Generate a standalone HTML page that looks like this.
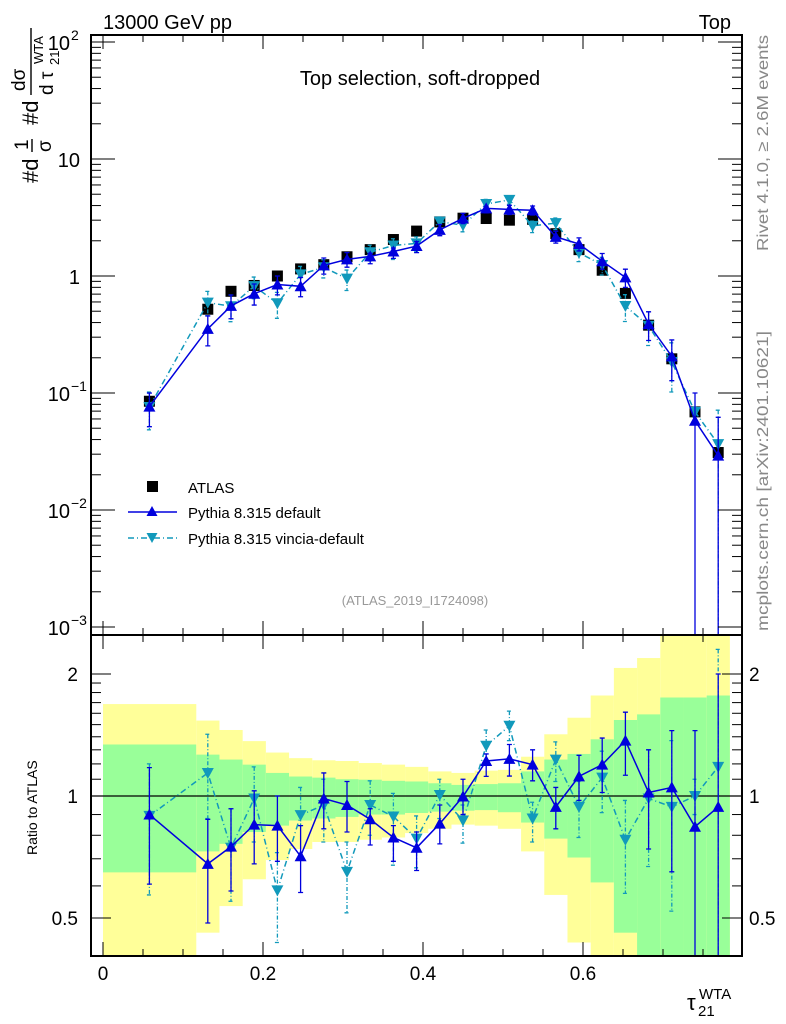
<!DOCTYPE html>
<html><head><meta charset="utf-8"><style>
html,body{margin:0;padding:0;background:#fff;}
svg{display:block;font-family:"Liberation Sans",sans-serif;}
</style></head><body>
<svg id="chart" width="786" height="1024" viewBox="0 0 786 1024" xmlns="http://www.w3.org/2000/svg">
<defs>
<clipPath id="mainClip"><rect x="91" y="35" width="651" height="600"/></clipPath>
<clipPath id="ratioClip"><rect x="91" y="635" width="651" height="321"/></clipPath>
</defs>
<g id="ratio-bands" clip-path="url(#ratioClip)"></g>
<g id="main-g" clip-path="url(#mainClip)"></g>
<g id="ratio-g" clip-path="url(#ratioClip)"></g>
<g id="axes-g"></g>
<text x="103" y="29" font-size="20">13000 GeV pp</text>
<text x="731" y="29" font-size="20" text-anchor="end">Top</text>
<text x="420" y="85" font-size="20" text-anchor="middle">Top selection, soft-dropped</text>
<text x="415" y="605" font-size="13" fill="#999" text-anchor="middle">(ATLAS_2019_I1724098)</text>
<text transform="translate(768,251) rotate(-90)" font-size="16" fill="#888" textLength="216" lengthAdjust="spacingAndGlyphs">Rivet 4.1.0, ≥ 2.6M events</text>
<text transform="translate(768,631) rotate(-90)" font-size="16" fill="#888" textLength="300" lengthAdjust="spacingAndGlyphs">mcplots.cern.ch [arXiv:2401.10621]</text>
<g transform="translate(38,183) rotate(-90)" font-size="22">
  <text x="0" y="0">#d</text>
  <text x="33" y="-10" font-size="19">1</text>
  <line x1="31" y1="-6" x2="44" y2="-6" stroke="#000" stroke-width="1.4"/>
  <text x="31" y="13" font-size="19">σ</text>
  <text x="58" y="0">#d</text>
  <text x="92" y="-13" font-size="19">dσ</text>
  <line x1="88" y1="-7" x2="155" y2="-7" stroke="#000" stroke-width="1.4"/>
  <text x="88" y="15" font-size="19">d τ</text>
  <text x="118" y="21" font-size="13">21</text>
  <text x="119" y="5" font-size="13">WTA</text>
</g>
<text transform="translate(37,855) rotate(-90)" font-size="14">Ratio to ATLAS</text>
<g>
  <text x="687" y="1010" font-size="22">τ</text>
  <text x="698" y="1016" font-size="15">21</text>
  <text x="699" y="999" font-size="15">WTA</text>
</g>
<g font-size="15">
  <rect x="147" y="481" width="11" height="11" fill="#000"/>
  <text x="188" y="493">ATLAS</text>
  <line x1="128" y1="512" x2="177" y2="512" stroke="#0000dd" stroke-width="1.5"/>
  <polygon points="152,506 146.5,516 157.5,516" fill="#0000dd"/>
  <text x="188" y="518">Pythia 8.315 default</text>
  <line x1="128" y1="538" x2="177" y2="538" stroke="#1199bb" stroke-width="1.5" stroke-dasharray="6,3,1,3"/>
  <polygon points="146.5,533 157.5,533 152,543" fill="#1199bb"/>
  <text x="188" y="544">Pythia 8.315 vincia-default</text>
</g>
</svg>
<script>
const xCenters=[0.058,0.131,0.160,0.189,0.218,0.247,0.276,0.305,0.334,0.363,0.392,0.421,0.450,0.479,0.508,0.537,0.566,0.595,0.624,0.653,0.682,0.711,0.740,0.769];
const binLo=[0,0.1166,0.1456,0.1746,0.2036,0.2326,0.2616,0.2906,0.3196,0.3486,0.3776,0.4066,0.4356,0.4646,0.4936,0.5226,0.5516,0.5806,0.6096,0.6386,0.6676,0.6966,0.7256,0.7546];
const binHi=[0.1166,0.1456,0.1746,0.2036,0.2326,0.2616,0.2906,0.3196,0.3486,0.3776,0.4066,0.4356,0.4646,0.4936,0.5226,0.5516,0.5806,0.6096,0.6386,0.6676,0.6966,0.7256,0.7546,0.7836];
const atlasVals=[0.085,0.52,0.74,0.83,1.0,1.15,1.25,1.46,1.68,2.05,2.42,2.9,3.12,3.1,3.0,3.05,2.3,1.68,1.12,0.71,0.38,0.196,0.069,0.031];
const defRatio=[0.90,0.68,0.75,0.85,0.845,0.71,0.986,0.95,0.876,0.79,0.745,0.855,0.997,1.22,1.235,1.195,0.94,1.118,1.195,1.37,1.02,1.05,0.84,0.94];
const defHi=[1.175,0.876,0.93,1.03,1.0,0.845,1.14,1.086,0.93,0.845,0.815,0.95,1.1,1.27,1.34,1.30,1.05,1.26,1.39,1.61,1.30,1.45,1.45,2.0];
const defLo=[0.606,0.486,0.583,0.68,0.69,0.578,0.83,0.815,0.757,0.69,0.655,0.762,0.9,1.118,1.12,1.09,0.83,0.975,1.02,1.125,0.74,0.65,0.3,0.3];
const vinRatio=[0.893,1.14,0.745,0.986,0.585,0.897,0.95,0.65,0.95,0.89,0.785,1.006,0.87,1.33,1.49,0.88,1.23,0.94,1.11,0.78,0.986,0.94,1.0,1.18];
const vinHi=[1.2,1.42,0.93,1.18,0.725,1.05,1.1,0.77,1.09,1.015,0.893,1.1,0.95,1.455,1.62,0.965,1.36,1.086,1.29,0.975,1.3,1.37,1.1,2.3];
const vinLo=[0.57,0.88,0.55,0.77,0.435,0.845,0.77,0.515,0.80,0.675,0.665,0.88,0.765,1.2,1.37,0.77,1.086,0.79,0.91,0.575,0.67,0.52,0.9,0.3];
const yelUp=[1.686,1.535,1.455,1.366,1.28,1.24,1.225,1.22,1.206,1.195,1.18,1.15,1.14,1.155,1.16,1.25,1.42,1.56,1.77,2.07,2.19,2.6,2.6,2.6];
const yelDn=[0.38,0.46,0.535,0.623,0.695,0.74,0.77,0.77,0.78,0.79,0.81,0.83,0.85,0.845,0.83,0.73,0.57,0.435,0.38,0.38,0.38,0.38,0.38,0.38];
const grnUp=[1.34,1.265,1.23,1.195,1.14,1.117,1.11,1.1,1.097,1.09,1.086,1.075,1.065,1.07,1.075,1.15,1.23,1.27,1.38,1.54,1.59,1.75,1.75,1.77];
const grnDn=[0.648,0.73,0.762,0.815,0.845,0.87,0.88,0.888,0.9,0.90,0.908,0.915,0.92,0.923,0.912,0.86,0.785,0.705,0.612,0.46,0.403,0.403,0.4,0.39];
const xTicks=[0,0.2,0.4,0.6];
const xTickLabels=["0","0.2","0.4","0.6"];
const ratioTicks=[0.5,1,2];
const ratioTickLabels=["0.5","1","2"];

const NS="http://www.w3.org/2000/svg";
const FL=91,FR=742,MT=35,MB=635,RT=635,RB=956;
function X(v){return 103+800*v;}
function YM(v){return Math.min(MB+5,276-117*Math.log10(v));}
function YR(v){let y=796-122*Math.log2(v);return Math.max(RT-3,Math.min(RB+3,y));}
function mk(tag,attrs,parent){const e=document.createElementNS(NS,tag);for(const k in attrs)e.setAttribute(k,attrs[k]);parent.appendChild(e);return e;}
const bandsG=document.getElementById('ratio-bands');
const mainG=document.getElementById('main-g');
const ratioG=document.getElementById('ratio-g');
const axG=document.getElementById('axes-g');

for(let i=0;i<xCenters.length;i++){
  const x1=X(binLo[i]),x2=X(binHi[i]);
  const y=mk('rect',{x:x1,y:YR(yelUp[i]),width:x2-x1,height:YR(yelDn[i])-YR(yelUp[i]),fill:'#ffff99'},bandsG);
  
  
  const g=mk('rect',{x:x1,y:YR(grnUp[i]),width:x2-x1,height:YR(grnDn[i])-YR(grnUp[i]),fill:'#99ff99'},bandsG);
  
  
}
const one=mk('line',{x1:FL,x2:FR,y1:YR(1),y2:YR(1),stroke:'#000','stroke-width':1.3},ratioG);



function series(vals,hi,lo,yf,color,dash,down,name,g){
  const pts=vals.map((v,i)=>X(xCenters[i])+','+yf(v)).join(' ');
  const pl=mk('polyline',{points:pts,fill:'none',stroke:color,'stroke-width':1.5},g);
  if(dash)pl.setAttribute('stroke-dasharray',dash);
  
  
  vals.forEach((v,i)=>{
    const x=X(xCenters[i]),y=yf(v),yh=yf(hi[i]),yl=yf(lo[i]);
    const eb=mk('path',{d:`M${x},${yh}V${yl}M${x-2.5},${yh}H${x+2.5}M${x-2.5},${yl}H${x+2.5}`,stroke:color,'stroke-width':1.3,fill:'none'},g);
    if(dash)eb.setAttribute('stroke-dasharray','4,2,1,2');
    
    
    const p=down?`${x-6},${y-5} ${x+6},${y-5} ${x},${y+6}`:`${x},${y-6} ${x-6},${y+5} ${x+6},${y+5}`;
    const m=mk('polygon',{points:p,fill:color},g);
    
    
  });
}
atlasVals.forEach((v,i)=>{
  const r=mk('rect',{x:X(xCenters[i])-5.5,y:YM(v)-5.5,width:11,height:11,fill:'#000'},mainG);
  
  
});
const clampM=v=>Math.max(v,0.0005);
series(atlasVals.map((a,i)=>a*vinRatio[i]),atlasVals.map((a,i)=>a*vinHi[i]),atlasVals.map((a,i)=>clampM(a*(vinLo[i]<=0.3?0:vinLo[i]))),YM,'#1199bb','6,3,1,3',true,'vincia-main',mainG);
series(atlasVals.map((a,i)=>a*defRatio[i]),atlasVals.map((a,i)=>a*defHi[i]),atlasVals.map((a,i)=>clampM(a*(defLo[i]<=0.3?0:defLo[i]))),YM,'#0000dd',null,false,'default-main',mainG);
series(vinRatio,vinHi,vinLo,YR,'#1199bb','6,3,1,3',true,'vincia-ratio',ratioG);
series(defRatio,defHi,defLo,YR,'#0000dd',null,false,'default-ratio',ratioG);

const f1=mk('rect',{x:FL,y:MT,width:FR-FL,height:MB-MT,fill:'none',stroke:'#000','stroke-width':2},axG);


const f2=mk('rect',{x:FL,y:RT,width:FR-FL,height:RB-RT,fill:'none',stroke:'#000','stroke-width':2},axG);


for(let k=0;k<=15;k++){
  const v=k*0.05,x=X(v),maj=(k%4===0),len=maj?14:7;
  [[MT,1],[MB,-1],[RT,1],[RB,-1]].forEach(([y0,s])=>mk('line',{x1:x,x2:x,y1:y0,y2:y0+s*len,stroke:'#000','stroke-width':1},axG));
}
xTicks.forEach((v,i)=>{
  const t=mk('text',{x:X(v),y:980,'font-size':19,'text-anchor':'middle'},axG);
  t.textContent=xTickLabels[i];
  
  
});
for(let e=-3;e<=2;e++){
  for(let m=1;m<10;m++){
    const v=m*Math.pow(10,e),y=276-117*Math.log10(v);
    if(y<MT||y>MB)continue;
    const len=m===1?24:10;
    mk('line',{x1:FL,x2:FL+len,y1:y,y2:y,stroke:'#000','stroke-width':1},axG);
    mk('line',{x1:FR,x2:FR-len,y1:y,y2:y,stroke:'#000','stroke-width':1},axG);
  }
}
const mainLabels=[[100,'10','2'],[10,'10',''],[1,'1',''],[0.1,'10','−1'],[0.01,'10','−2'],[0.001,'10','−3']];
mainLabels.forEach(([v,b,sup])=>{
  const y=276-117*Math.log10(v);
  const t=mk('text',{x:sup?70:80,y:y+8,'font-size':20,'text-anchor':'end'},axG);
  t.textContent=b;
  
  
  if(sup){const s=mk('text',{x:71,y:y-2,'font-size':14},axG);s.textContent=sup;}
});
[0.5,0.6,0.7,0.8,0.9,1,1.1,1.2,1.3,1.4,1.5,1.6,1.7,1.8,1.9,2,2.5].forEach(v=>{
  const y=796-122*Math.log2(v);if(y<=RT+1)return;
  const maj=ratioTicks.includes(v),len=maj?20:10;
  mk('line',{x1:FL,x2:FL+len,y1:y,y2:y,stroke:'#000','stroke-width':1},axG);
  mk('line',{x1:FR,x2:FR-len,y1:y,y2:y,stroke:'#000','stroke-width':1},axG);
});
ratioTicks.forEach((v,i)=>{
  const y=796-122*Math.log2(v);
  const a=mk('text',{x:78,y:y+7,'font-size':19,'text-anchor':'end'},axG);
  a.textContent=ratioTickLabels[i];
  
  
  const b=mk('text',{x:749,y:y+7,'font-size':19},axG);
  b.textContent=ratioTickLabels[i];
  
  
});
</script>
</body></html>
